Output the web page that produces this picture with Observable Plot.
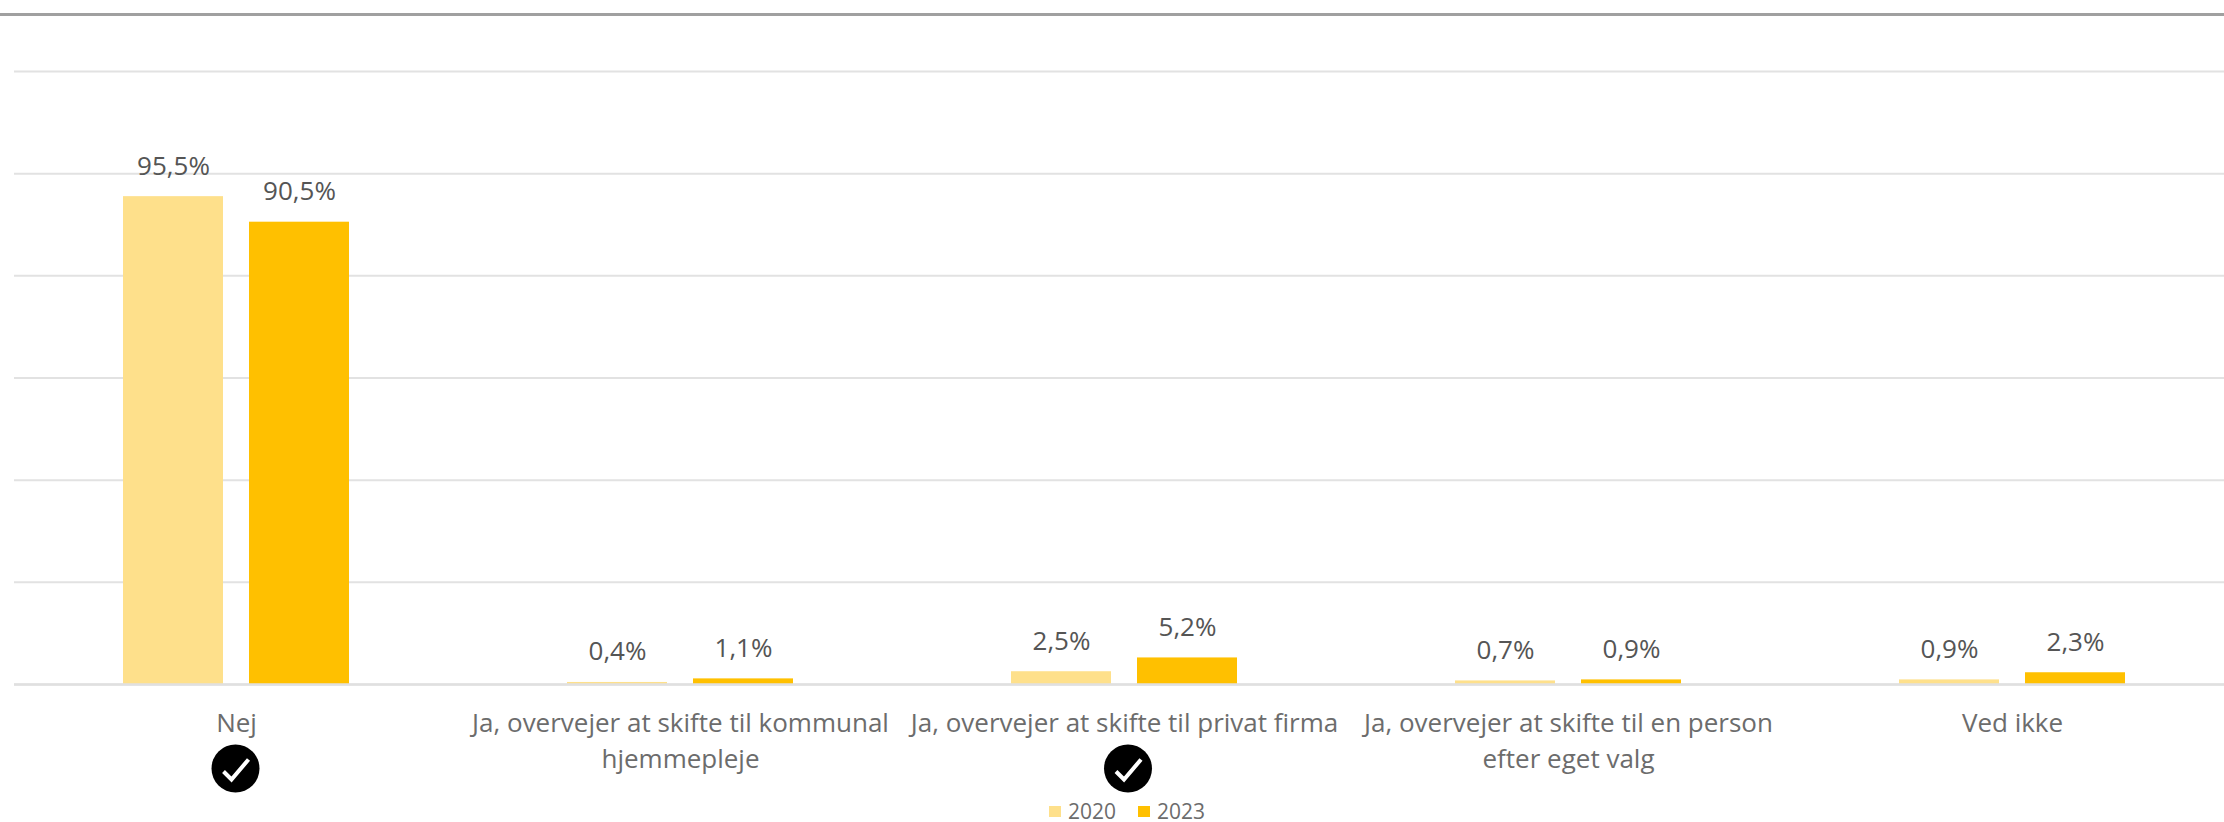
<!DOCTYPE html>
<html lang="da">
<head>
<meta charset="utf-8">
<script src="https://cdn.jsdelivr.net/npm/d3@7"></script>
<script src="https://cdn.jsdelivr.net/npm/@observablehq/plot@0.6"></script>
<style>
html,body{margin:0;padding:0;background:#fff;width:2224px;height:822px;overflow:hidden}
#wrap{position:relative;width:2224px;height:822px}
#top{position:absolute;left:0;top:13px;width:2224px;height:2.5px;background:#a0a0a0}
#chart{position:absolute;left:0;top:0}
#chart svg{display:block}
#legend{position:absolute;left:0;top:800px;width:2224px;height:22px;font:21px "Open Sans",sans-serif;color:#6c6c6c}
#legend i{position:absolute;top:6px;width:12px;height:11px}
#legend span{position:absolute;top:1px;line-height:21px}
</style>
</head>
<body>
<div id="wrap">
<div id="chart"></div>
<div id="top"></div>
<div id="legend"></div>
</div>
<script>
const categories = [
  "Nej",
  "Ja, overvejer at skifte til kommunal\nhjemmepleje",
  "Ja, overvejer at skifte til privat firma",
  "Ja, overvejer at skifte til en person\nefter eget valg",
  "Ved ikke"
];
const years = ["2020", "2023"];
const values2020 = [95.5, 0.4, 2.5, 0.7, 0.9];
const values2023 = [90.5, 1.1, 5.2, 0.9, 2.3];
const gridValues = [0, 20, 40, 60, 80, 100, 120];
const colors = ["#FEE08B", "#FFC000"];
const checked = [categories[0], categories[2]];
const checkedShift = [-1, 3.5];

const rows = categories.flatMap((c, i) => [
  {category: c, year: years[0], value: values2020[i]},
  {category: c, year: years[1], value: values2023[i]}
]);
const fmt = v => v.toFixed(1).replace(".", ",") + "%";

// A tick drawn as a custom symbol for Plot.dot
const tickSymbol = {
  draw(ctx, size) {
    const s = Math.sqrt(size / Math.PI) / 24;
    ctx.moveTo(-12 * s, 3 * s);
    ctx.lineTo(-4 * s, 11 * s);
    ctx.lineTo(13 * s, -9 * s);
  }
};

const checkMarks = checked.flatMap((c, i) => [
  Plot.dot([c], {fx: d => d, frameAnchor: "bottom", dx: checkedShift[i], dy: 84, r: 24, fill: "#000"}),
  Plot.dot([c], {
    fx: d => d, frameAnchor: "bottom", dx: checkedShift[i], dy: 84, r: 24, symbol: tickSymbol,
    fill: "none", stroke: "#fff", strokeWidth: 4
  })
]);

const plot = Plot.plot({
  width: 2224,
  height: 800,
  marginLeft: 14,
  marginRight: -10,
  marginTop: 71,
  marginBottom: 116,
  style: {fontFamily: "'Open Sans', sans-serif", background: "transparent"},
  fx: {domain: categories, padding: 0, label: null},
  x: {domain: years, paddingInner: 26 / 126, paddingOuter: 0.865, axis: null, label: null},
  y: {domain: [0, 120], axis: null, label: null},
  color: {domain: years, range: colors},
  marks: [
    Plot.ruleY(gridValues, {stroke: "#e2e2e2", strokeWidth: 2}),
    Plot.barY(rows, {fx: "category", x: "year", y: "value", fill: "year"}),
    Plot.ruleY([0], {stroke: "#e0e0e0", strokeWidth: 2.5}),
    Plot.text(rows, {
      fx: "category", x: "year", y: "value", text: d => fmt(d.value),
      lineAnchor: "bottom", dy: -22, fontSize: 26, fill: "#555555"
    }),
    Plot.axisFx({
      anchor: "bottom", tickSize: 0, tickPadding: 21.5, fontSize: 26,
      lineHeight: 1.4, color: "#6c6c6c", label: null
    }),
    ...checkMarks
  ]
});
document.getElementById("chart").appendChild(plot);

const legendSpots = [[1049, 1068], [1138, 1157]];
const legend = document.getElementById("legend");
years.forEach((y, i) => {
  const sw = document.createElement("i");
  sw.style.left = legendSpots[i][0] + "px";
  sw.style.background = colors[i];
  const tx = document.createElement("span");
  tx.style.left = legendSpots[i][1] + "px";
  tx.textContent = y;
  legend.append(sw, tx);
});
</script>
</body>
</html>
